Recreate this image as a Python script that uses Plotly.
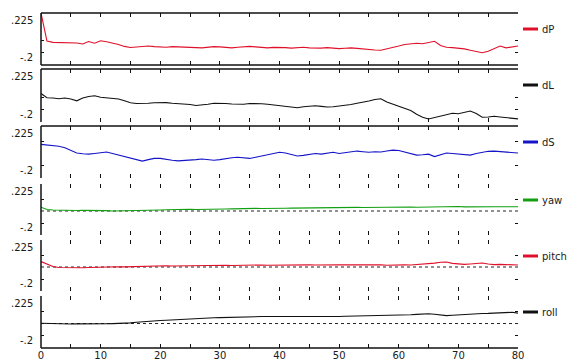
import plotly.graph_objects as go

TIME = list(range(81))

DP = [0.225, -0.005, -0.015, -0.017, -0.015, -0.018, -0.02, -0.028, -0.008, -0.022,
      -0.002, -0.01, -0.018, -0.032, -0.048, -0.057, -0.053, -0.048, -0.045, -0.05,
      -0.052, -0.055, -0.05, -0.053, -0.058, -0.055, -0.058, -0.06, -0.055, -0.05,
      -0.052, -0.056, -0.06, -0.055, -0.05, -0.048, -0.052, -0.058, -0.06, -0.056,
      -0.054, -0.058, -0.062, -0.058, -0.055, -0.06, -0.064, -0.062, -0.058, -0.062,
      -0.066, -0.063, -0.06, -0.064, -0.07, -0.072, -0.078, -0.08, -0.07, -0.058,
      -0.045, -0.032, -0.025, -0.022, -0.026, -0.018, -0.006, -0.04, -0.055, -0.058,
      -0.062, -0.068, -0.08, -0.092, -0.1, -0.088, -0.068, -0.045, -0.06, -0.055, -0.045]

DL = [0.028, -0.005, -0.008, -0.013, -0.008, -0.015, -0.03, -0.008, 0.005, 0.01,
      -0.002, -0.008, -0.012, -0.015, -0.03, -0.045, -0.052, -0.054, -0.05, -0.046,
      -0.044, -0.045, -0.05, -0.052, -0.054, -0.06, -0.068, -0.066, -0.058, -0.05,
      -0.048, -0.052, -0.056, -0.06, -0.058, -0.052, -0.05, -0.054, -0.058, -0.064,
      -0.07, -0.078, -0.085, -0.086, -0.078, -0.072, -0.07, -0.075, -0.08, -0.078,
      -0.074, -0.068, -0.06, -0.05, -0.042, -0.032, -0.02, -0.014, -0.04, -0.058,
      -0.076, -0.09, -0.108, -0.138, -0.162, -0.176, -0.165, -0.152, -0.138, -0.13,
      -0.134, -0.125, -0.112, -0.132, -0.162, -0.16, -0.154, -0.16, -0.165, -0.17, -0.175]

DS = [0.075, 0.072, 0.068, 0.06, 0.048, 0.025, 0.005, -0.002, -0.005, 0.0,
      0.008, 0.012, 0.0, -0.013, -0.025, -0.035, -0.05, -0.062, -0.05, -0.04,
      -0.04, -0.05, -0.055, -0.06, -0.058, -0.055, -0.05, -0.045, -0.05, -0.055,
      -0.05, -0.04, -0.035, -0.03, -0.035, -0.04, -0.03, -0.02, -0.01, 0.0,
      0.01, 0.005, -0.01, -0.02, -0.015, -0.005, 0.0, -0.005, 0.005, 0.01,
      0.0, 0.005, 0.012, 0.02, 0.015, 0.01, 0.015, 0.012, 0.02, 0.028,
      0.025, 0.012, 0.0, -0.013, -0.01, -0.005, -0.025, -0.01, 0.004, 0.0,
      -0.005, -0.01, -0.013, 0.0, 0.012, 0.018, 0.02, 0.015, 0.008, 0.004, 0.004]

YAW = [0.032, 0.012, 0.008, 0.006, 0.005, 0.006, 0.004, 0.005, 0.006, 0.004,
       0.002, 0.003, 0.0, 0.001, 0.002, 0.0, -0.002, 0.0, 0.002, 0.004,
       0.008, 0.01, 0.012, 0.01, 0.012, 0.014, 0.013, 0.015, 0.014, 0.016,
       0.018, 0.017, 0.018, 0.02, 0.019, 0.02, 0.022, 0.021, 0.02, 0.022,
       0.024, 0.023, 0.024, 0.025, 0.024, 0.026, 0.025, 0.027, 0.026, 0.027,
       0.028, 0.027, 0.028, 0.03, 0.029, 0.03, 0.029, 0.031, 0.03, 0.032,
       0.031, 0.032, 0.033, 0.031, 0.032, 0.034, 0.033, 0.035, 0.038, 0.042,
       0.038, 0.034, 0.033, 0.034, 0.035, 0.034, 0.035, 0.036, 0.035, 0.036, 0.035]

PITCH = [0.045, 0.022, 0.004, -0.004, -0.006, -0.005, -0.008, -0.006, -0.004, -0.002,
         0.0, -0.002, 0.0, 0.002, 0.001, 0.003, 0.004, 0.006, 0.005, 0.007,
         0.008, 0.01, 0.008, 0.009, 0.012, 0.01, 0.013, 0.015, 0.012, 0.014,
         0.016, 0.015, 0.013, 0.015, 0.017, 0.016, 0.018, 0.017, 0.015, 0.016,
         0.018, 0.017, 0.016, 0.018, 0.02, 0.018, 0.017, 0.019, 0.018, 0.02,
         0.019, 0.018, 0.02, 0.021, 0.019, 0.018, 0.02, 0.018, 0.015, 0.017,
         0.02, 0.018, 0.017, 0.02, 0.022, 0.025, 0.032, 0.04, 0.042, 0.03,
         0.025, 0.022, 0.025, 0.03, 0.033, 0.025, 0.02, 0.022, 0.02, 0.018, 0.017]

ROLL = [0.002, 0.0, -0.002, -0.003, -0.002, -0.004, -0.003, -0.004, -0.003, -0.002,
        -0.003, -0.002, -0.001, 0.0, 0.002, 0.005, 0.01, 0.015, 0.018, 0.022,
        0.025, 0.027, 0.03, 0.032, 0.035, 0.038, 0.04, 0.042, 0.045, 0.047,
        0.048, 0.05, 0.05, 0.052, 0.053, 0.055, 0.056, 0.057, 0.057, 0.058,
        0.058, 0.057, 0.056, 0.057, 0.058, 0.058, 0.057, 0.058, 0.06, 0.059,
        0.058, 0.059, 0.06, 0.061, 0.06, 0.059, 0.06, 0.062, 0.064, 0.066,
        0.068, 0.07, 0.072, 0.075, 0.078, 0.08, 0.076, 0.068, 0.065, 0.068,
        0.072, 0.075, 0.078, 0.08, 0.082, 0.083, 0.084, 0.086, 0.09, 0.092, 0.085]

BASE_X = [0, 80]
BASE_Y = [0.0, 0.0]

NAMES = ["dP", "dL", "dS", "yaw", "pitch", "roll"]
SERIES = [DP, DL, DS, YAW, PITCH, ROLL]
COLORS = ["#e0102a", "#111111", "#1414c8", "#12a012", "#e0102a", "#111111"]
HAS_BASE = [False, False, False, True, True, True]

X_TICK_VALUES = [0, 5, 10, 15, 20, 25, 30, 35, 40, 45, 50, 55, 60, 65, 70, 75, 80]
X_TICK_LABELS = ["0", "", "10", "", "20", "", "30", "", "40", "", "50", "", "60", "", "70", "", "80"]
Y_TICK_VALUES = [[0.0, -0.1]] * 2 + [[0.1, -0.1]] * 4
Y_TOP_LABEL = ".225"
Y_BOTTOM_LABEL = "-.2"
Y_RANGE = [-0.2, 0.225]

W, H = 573, 361
LEFT, RIGHT, TOP, BOTTOM = 41, 518, 13, 348          # plot area in pixels
ML, MT, MR, MB = LEFT, TOP, W - RIGHT, H - BOTTOM
PH = BOTTOM - TOP
PW = RIGHT - LEFT
# panel extents (top, bottom) in pixels
PANELS_PX = [(13, 65), (69, 122), (126, 178), (184, 235), (240, 291), (296, 348)]
# which frame lines each panel draws: (top, bottom)
FRAME = [(True, True), (True, False), (True, False), (False, False), (False, False), (False, True)]

def pdom(top, bot):
    return [(BOTTOM - bot) / PH, (BOTTOM - top) / PH]

TXT = dict(family="DejaVu Sans", size=10, color="#1a1a1a")
LINE = dict(color="#111111", width=1.5)

fig = go.Figure()
layout = dict(
    width=W, height=H, autosize=False,
    margin=dict(l=ML, r=MR, t=MT, b=MB, pad=0, autoexpand=False),
    paper_bgcolor="white", plot_bgcolor="white",
    showlegend=False, font=TXT,
)
shapes = []
annotations = []

for i in range(6):
    n = "" if i == 0 else str(i + 1)
    xa, ya = "x" + n, "y" + n
    if HAS_BASE[i]:
        fig.add_trace(go.Scatter(x=BASE_X, y=BASE_Y, mode="lines", xaxis=xa, yaxis=ya,
                                 line=dict(color="#222222", width=1, dash="dot"),
                                 hoverinfo="skip"))
    fig.add_trace(go.Scatter(x=TIME, y=SERIES[i], mode="lines", name=NAMES[i],
                             xaxis=xa, yaxis=ya,
                             line=dict(color=COLORS[i], width=1.1)))
    dom = pdom(*PANELS_PX[i])
    layout["xaxis" + n] = dict(
        domain=[0, 1], anchor=ya, range=[0, 80], tickmode="array",
        tickvals=X_TICK_VALUES, ticktext=X_TICK_LABELS,
        ticks="inside", ticklen=4, tickwidth=1, tickcolor="#111",
        showgrid=False, zeroline=False, showline=False, mirror="ticks",
        showticklabels=(i == 5), tickfont=TXT, automargin=False)
    layout["yaxis" + n] = dict(
        domain=dom, anchor=xa, range=Y_RANGE, tickmode="array",
        tickvals=Y_TICK_VALUES[i], ticktext=["" for _ in Y_TICK_VALUES[i]],
        ticks="inside", ticklen=3, tickwidth=1, tickcolor="#111",
        showgrid=False, zeroline=False, showline=False, mirror="ticks",
        showticklabels=False, automargin=False)

    # frame lines: left axis always, top/bottom per panel
    shapes.append(dict(type="line", xref="paper", yref=ya + " domain",
                       x0=0, x1=0, y0=0, y1=1, line=LINE))
    if FRAME[i][0]:
        shapes.append(dict(type="line", xref="paper", yref=ya + " domain",
                           x0=0, x1=1, y0=1, y1=1, line=LINE))
    if FRAME[i][1]:
        shapes.append(dict(type="line", xref="paper", yref=ya + " domain",
                           x0=0, x1=1, y0=0, y1=0, line=LINE))

    # y range end labels
    annotations.append(dict(xref="paper", yref=ya + " domain", x=0, y=1, xshift=-6,
                            text=Y_TOP_LABEL, showarrow=False, xanchor="right",
                            yanchor="top", font=TXT))
    annotations.append(dict(xref="paper", yref=ya + " domain", x=0, y=0, xshift=-6,
                            text=Y_BOTTOM_LABEL, showarrow=False, xanchor="right",
                            yanchor="bottom", font=TXT))

    # legend entry at the right of the panel
    ly = dom[1] - 16 / PH
    shapes.append(dict(type="line", xref="paper", yref="paper",
                       x0=(523 - LEFT) / PW, x1=(538 - LEFT) / PW, y0=ly, y1=ly,
                       line=dict(color=COLORS[i], width=3)))
    annotations.append(dict(xref="paper", yref="paper", x=(540 - LEFT) / PW, y=ly,
                            text=NAMES[i], showarrow=False, xanchor="left",
                            yanchor="middle", font=TXT))

layout["shapes"] = shapes
layout["annotations"] = annotations
fig.update_layout(**layout)
# remove the browser's default 8px page margin so the figure sits at the window origin
fig.write_html("out.html", config={"displayModeBar": False, "staticPlot": True},
               post_script="document.body.style.margin='0px';")
